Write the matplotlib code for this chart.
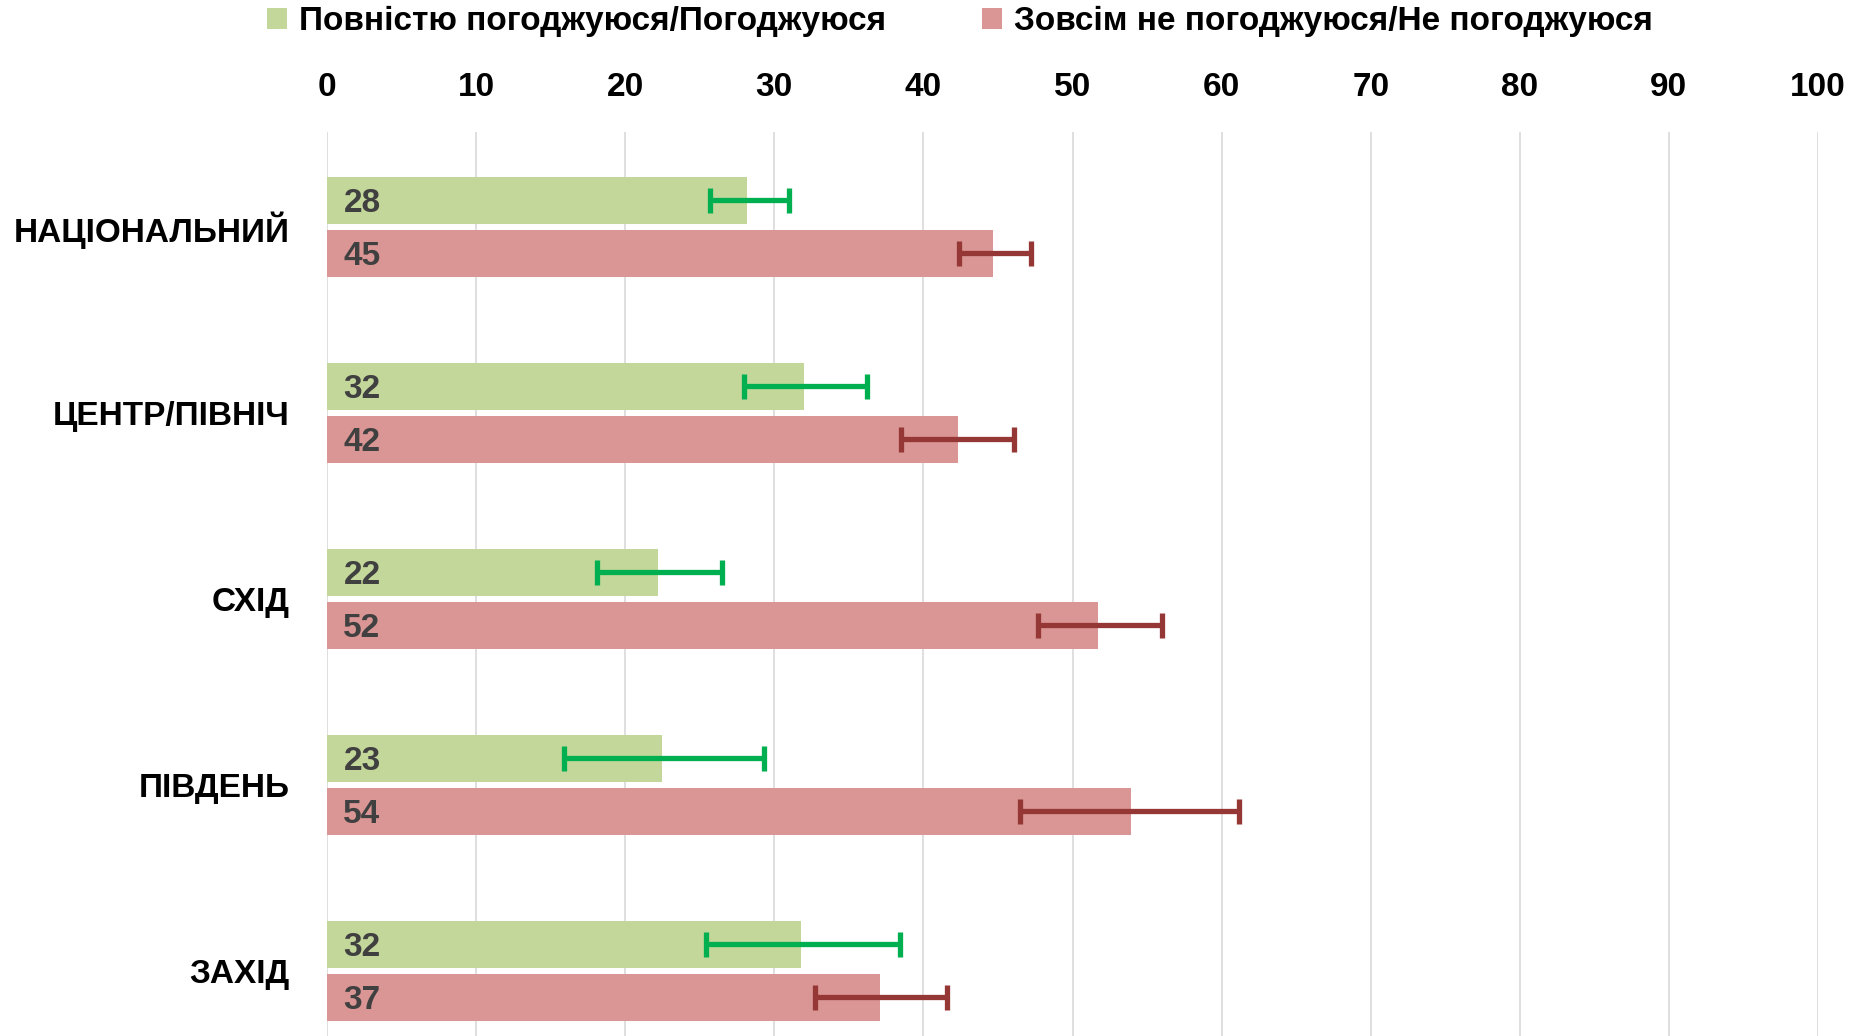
import numpy as np
import matplotlib.pyplot as plt

plt.rcParams['font.family'] = ['Liberation Sans', 'DejaVu Sans']
plt.rcParams['font.weight'] = 'bold'

regions = ['НАЦІОНАЛЬНИЙ', 'ЦЕНТР/ПІВНІЧ', 'СХІД', 'ПІВДЕНЬ', 'ЗАХІД']
agree = [28.2, 32.0, 22.2, 22.5, 31.8]
disagree = [44.7, 42.3, 51.7, 53.9, 37.1]
agree_lbl = [28, 32, 22, 23, 32]
disagree_lbl = [45, 42, 52, 54, 37]
# error bar ends (low, high)
agree_lo = [25.7, 28.0, 18.1, 15.9, 25.4]
agree_hi = [31.0, 36.2, 26.5, 29.3, 38.4]
dis_lo = [42.4, 38.5, 47.7, 46.5, 32.7]
dis_hi = [47.2, 46.1, 56.0, 61.2, 41.6]
ticks = list(range(0, 101, 10))

GREEN = '#C4D79B'
RED = '#DA9694'
EGREEN = '#00B050'
ERED = '#953735'
FS = 24

fig = plt.figure(figsize=(18.53, 10.36), dpi=100)
ax = fig.add_axes([327/1853, 0, (1818-327)/1853, (1036-132)/1036])

y = np.arange(len(regions))
off = 0.142
h = 0.25
ag = np.array(agree)
di = np.array(disagree)
ax.barh(y-off, ag, height=h, color=GREEN, label='Повністю погоджуюся/Погоджуюся', zorder=2)
ax.barh(y+off, di, height=h, color=RED, label='Зовсім не погоджуюся/Не погоджуюся', zorder=2)

mid_a = (np.array(agree_lo)+np.array(agree_hi))/2
mid_d = (np.array(dis_lo)+np.array(dis_hi))/2
ax.errorbar(mid_a, y-off, xerr=(np.array(agree_hi)-np.array(agree_lo))/2, fmt='none',
            ecolor=EGREEN, elinewidth=3.8, capsize=9, capthick=3.8, zorder=3)
ax.errorbar(mid_d, y+off, xerr=(np.array(dis_hi)-np.array(dis_lo))/2, fmt='none',
            ecolor=ERED, elinewidth=3.8, capsize=9, capthick=3.8, zorder=3)

for i in range(len(regions)):
    ax.text(1.1, y[i]-off, str(agree_lbl[i]), va='center_baseline', ha='left', fontsize=FS,
            color='#404040', fontweight='bold', zorder=4)
    ax.text(1.1, y[i]+off, str(disagree_lbl[i]), va='center_baseline', ha='left', fontsize=FS,
            color='#404040', fontweight='bold', zorder=4)

ax.set_xlim(0, 100)
ax.set_ylim(4.35, -0.51)
ax.set_xticks(ticks)
ax.set_yticks(y)
ax.set_yticklabels(regions)
ax.xaxis.tick_top()
ax.tick_params(axis='both', length=0, labelsize=FS)
ax.tick_params(axis='x', pad=21)
ax.tick_params(axis='y', pad=27)
ax.grid(axis='x', color='#D9D9D9', linewidth=1.2, zorder=0)
for s in ax.spines.values():
    s.set_visible(False)

fig.legend(loc='upper center', bbox_to_anchor=(0.518, 1.01), ncol=2, frameon=False,
           fontsize=FS, handlelength=0.6, handleheight=0.6, handletextpad=0.35,
           columnspacing=2.9, borderaxespad=0.1)

fig.savefig('out.png', dpi=100)
